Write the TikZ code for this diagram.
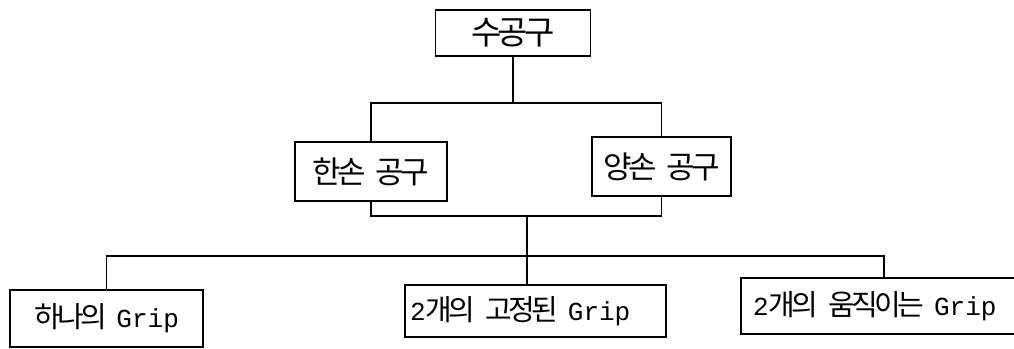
\documentclass[tikz,border=0pt]{standalone}
\usepackage{fontspec}
\setmainfont{Noto Sans CJK KR}[LetterSpace=-12]
\newfontfamily\lat{Liberation Mono}
\newcommand{\hsz}[1]{\fontsize{#1}{#1}\selectfont\spaceskip=0.32em\relax}
\newcommand{\gr}[1]{{\lat\fontsize{26}{26}\selectfont #1}}
\begin{document}
\begin{tikzpicture}[x=1pt,y=-1pt,
  box/.style={draw,line width=1.1pt,rectangle,inner sep=0pt,anchor=center},
  link/.style={line width=1.1pt}]
\clip (0,0) rectangle (1014,348);
\fill[white] (0,0) rectangle (1014,348);
% nodes
\node[box,minimum width=155pt,minimum height=46pt,font=\hsz{33}] (top) at (513,33) {수공구};
\node[box,minimum width=152pt,minimum height=59pt,font=\hsz{31}] (L) at (371,171.5) {한손 공구};
\node[box,minimum width=139pt,minimum height=59pt,font=\hsz{31}] (R) at (661.5,166.5) {양손 공구};
\node[box,minimum width=193pt,minimum height=57pt,font=\hsz{29}] (B1) at (106.5,318.5) {하나의 \gr{Grip}};
\node[box,minimum height=52pt,inner xsep=5pt,text width=251pt,align=left,font=\hsz{29}] (B2) at (535.5,311) {\gr{2}개의 고정된 \gr{Grip}};
\node[box,minimum height=56pt,inner xsep=12pt,text width=255pt,align=left,font=\hsz{29}] (B3) at (880.5,306) {\gr{2}개의 움직이는 \gr{Grip}};
% junctions
\coordinate (j1) at (513,103);
\coordinate (j2) at (527,216);
\coordinate (j3) at (527,256);
\coordinate (j4) at (884,256);
% connectors
\draw[link] (top.south) -- (j1);
\draw[link] (L.north) |- (j1) -| (R.north);
\draw[link] (L.south) |- (j2) -| (R.south);
\draw[link] (j2) -- (j3);
\draw[link] (B1.north) |- (j3) -- (j4) -- (j4 |- B3.north);
\draw[link] (j3) -- (j3 |- B2.north);
\end{tikzpicture}
\end{document}
